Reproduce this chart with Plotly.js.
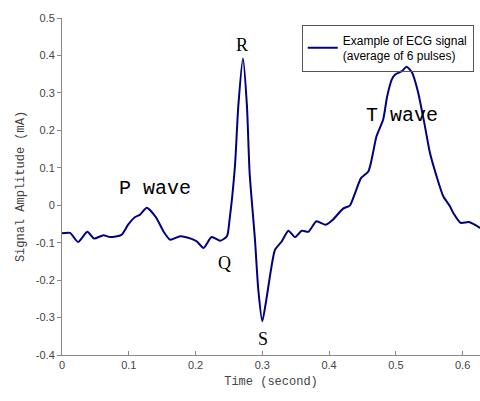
<!DOCTYPE html>
<html><head><meta charset="utf-8">
<script src="https://cdn.plot.ly/plotly-3.0.1.min.js"></script>
<style>html,body{margin:0;padding:0;background:#fff}#chart{width:480px;height:401px}</style>
</head><body><div id="chart"></div>
<script>
const timeSec = [0.000,0.012,0.024,0.038,0.048,0.062,0.072,0.089,0.099,0.109,0.117,0.127,0.141,0.152,0.162,0.177,0.194,0.202,0.212,0.224,0.237,0.247,0.251,0.259,0.264,0.271,0.277,0.281,0.289,0.294,0.300,0.306,0.313,0.319,0.329,0.339,0.349,0.359,0.369,0.381,0.395,0.406,0.421,0.431,0.439,0.448,0.459,0.471,0.481,0.487,0.494,0.499,0.509,0.516,0.524,0.533,0.543,0.551,0.561,0.571,0.581,0.586,0.597,0.609,0.618,0.626];
const amplitude = [-0.075,-0.074,-0.098,-0.071,-0.089,-0.080,-0.085,-0.079,-0.052,-0.032,-0.025,-0.007,-0.033,-0.070,-0.092,-0.083,-0.090,-0.097,-0.114,-0.085,-0.095,-0.083,-0.038,0.104,0.264,0.392,0.264,0.086,-0.092,-0.226,-0.310,-0.252,-0.172,-0.119,-0.097,-0.068,-0.085,-0.068,-0.071,-0.043,-0.052,-0.038,-0.009,-0.001,0.033,0.073,0.091,0.184,0.229,0.291,0.336,0.349,0.358,0.370,0.355,0.304,0.216,0.140,0.077,0.024,-0.003,-0.021,-0.047,-0.045,-0.052,-0.061];
const seriesName = "Example of ECG signal<br>(average of 6 pulses)";
const labelText = ["P wave","R","Q","S","T wave"];
const labelX = [0.139,0.270,0.243,0.301,0.509];
const labelY = [0.045,0.427,-0.153,-0.358,0.240];
const labelMono = [true,false,false,false,true];

const mono = "'Liberation Mono', 'Courier New', monospace";
const serif = "'Liberation Serif', 'Times New Roman', serif";
const sans = "'Liberation Sans', Arial, sans-serif";

const annotations = labelText.map((t,i)=>({
  x: labelX[i], y: labelY[i], xref:'x', yref:'y', text: t, showarrow:false,
  font: labelMono[i] ? {family: mono, size: 20, color:'#000'} : {family: serif, size: 18, color:'#000'}
}));

const trace = {x: timeSec, y: amplitude, type:'scatter', mode:'lines', name: seriesName,
  line:{color:'#000080', width:2, shape:'spline', smoothing:0.6}};

const layout = {
  width:480, height:401,
  margin:{l:62, r:0, t:18, b:46},
  paper_bgcolor:'#fff', plot_bgcolor:'#fff',
  showlegend:true,
  legend:{x:0.985, y:0.98, xanchor:'right', yanchor:'top', bordercolor:'#555', borderwidth:1,
    bgcolor:'rgba(255,255,255,0)', font:{family:sans, size:12, color:'#000'}, tracegroupgap:0},
  xaxis:{range:[0,0.626], showgrid:false, zeroline:false, showline:true, linecolor:'#888', linewidth:1,
    ticks:'inside', ticklen:4, tickcolor:'#888', tickvals:[0,0.1,0.2,0.3,0.4,0.5,0.6],
    ticktext:['0','0.1','0.2','0.3','0.4','0.5','0.6'],
    tickfont:{family:sans, size:11, color:'#444'},
    title:{text:'Time (second)', font:{family:mono, size:12, color:'#444'}, standoff:6}},
  yaxis:{range:[-0.4,0.5], showgrid:false, zeroline:false, showline:true, linecolor:'#888', linewidth:1,
    ticks:'outside', ticklen:4, tickcolor:'#888', tickvals:[-0.4,-0.3,-0.2,-0.1,0,0.1,0.2,0.3,0.4,0.5],
    ticktext:['-0.4','-0.3','-0.2','-0.1','0','0.1','0.2','0.3','0.4','0.5'],
    tickfont:{family:sans, size:11, color:'#444'},
    title:{text:'Signal Amplitude (mA)', font:{family:mono, size:12, color:'#444'}, standoff:8}},
  annotations: annotations
};
Plotly.newPlot('chart',[trace],layout,{displayModeBar:false, staticPlot:true});
</script></body></html>
